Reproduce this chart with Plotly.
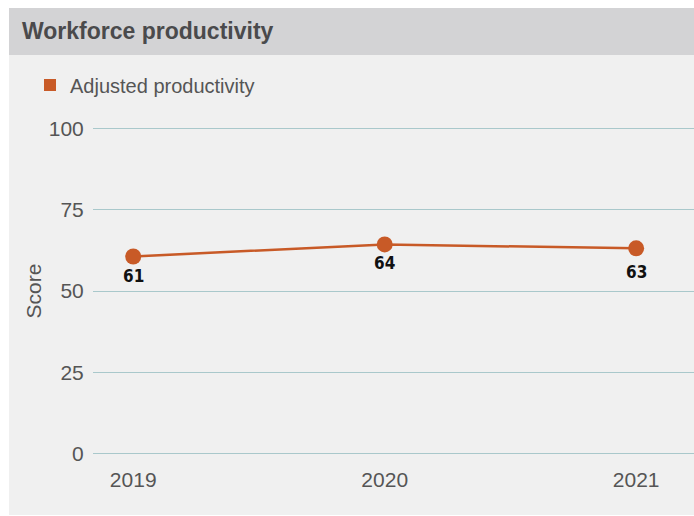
import plotly.graph_objects as go

years = ["2019", "2020", "2021"]
productivity = [60.6, 64.3, 63.1]
labels = ["61", "64", "63"]
series_name = "Adjusted productivity"
y_ticks = [0, 25, 50, 75, 100]

W, H = 694, 516
ml, mr, mt, mb = 93, 0, 125, 59
pw = W - ml - mr
ph = H - mt - mb

def px(x):
    return (x - ml) / pw

def py(y):
    return (H - mb - y) / ph

orange = "#c85a27"
label_shift = [-19, -19, -24]

fig = go.Figure()
fig.add_trace(go.Scatter(
    x=years, y=productivity, mode="lines+markers",
    line=dict(color=orange, width=2.5),
    marker=dict(color=orange, size=16),
    showlegend=False, cliponaxis=False,
))
fig.add_trace(go.Scatter(
    x=[None], y=[None], mode="markers", name=series_name,
    marker=dict(color=orange, size=12, symbol="square"),
))

shapes = [
    dict(type="rect", xref="paper", yref="paper", x0=px(9), x1=px(694), y0=py(515), y1=py(55),
         fillcolor="#f0f0f0", line=dict(width=0), layer="below"),
    dict(type="rect", xref="paper", yref="paper", x0=px(9), x1=px(694), y0=py(55), y1=py(8),
         fillcolor="#d3d3d5", line=dict(width=0), layer="below"),
]

annotations = [dict(
    text="<b>Workforce productivity</b>", xref="paper", yref="paper",
    x=px(20), y=py(31), xanchor="left", yanchor="middle", showarrow=False,
    font=dict(family="Liberation Sans, Arial, sans-serif", size=23, color="#4a4a4c"),
)]
for i, (val, lab, sh) in enumerate(zip(productivity, labels, label_shift)):
    annotations.append(dict(
        xref="x", yref="y", x=i, y=val, text=f"<b>{lab}</b>", showarrow=False, yshift=sh,
        xanchor="center", yanchor="middle",
        font=dict(family="DejaVu Sans Condensed, Liberation Sans, sans-serif", size=17, color="#111111"),
    ))

fig.update_layout(
    width=W, height=H,
    margin=dict(l=ml, r=mr, t=mt, b=mb),
    paper_bgcolor="white", plot_bgcolor="rgba(0,0,0,0)",
    shapes=shapes,
    font=dict(family="Liberation Sans, Arial, sans-serif", color="#555555"),
    annotations=annotations,
    legend=dict(x=px(30), y=py(85), xanchor="left", yanchor="middle",
                bgcolor="rgba(0,0,0,0)", font=dict(size=20, color="#555555")),
    xaxis=dict(type="category", range=[-0.16, 2.23], showgrid=False, zeroline=False, showline=False,
               ticks="outside", ticklen=4, tickcolor="rgba(0,0,0,0)",
               tickfont=dict(size=21, color="#555555")),
    yaxis=dict(range=[-1, 101], tickvals=y_ticks, showgrid=True, gridcolor="#a9c8cb",
               gridwidth=1.2, zeroline=False, showline=False,
               ticks="outside", ticklen=4, tickcolor="rgba(0,0,0,0)",
               tickfont=dict(size=21, color="#555555"),
               title=dict(text="Score", font=dict(size=21, color="#555555"), standoff=1)),
)

fig.write_html("out.html")
